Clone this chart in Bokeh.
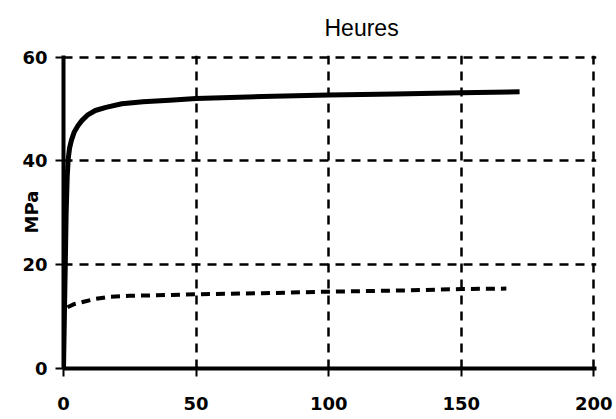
from bokeh.plotting import figure
from bokeh.models import Range1d, FixedTicker
from bokeh.embed import file_html
from bokeh.resources import INLINE

# Data (hours vs MPa)
solid_t = [0, 0.5, 1, 1.4, 1.8, 2.3, 3, 4, 5.5, 7, 9, 12, 16, 22, 30, 40, 50, 75, 100, 125, 150, 172]
solid_v = [0, 15, 30, 37, 40.5, 42.5, 44, 45.5, 46.8, 47.8, 48.8, 49.7, 50.3, 51.0, 51.4, 51.7, 52.0, 52.4, 52.7, 52.9, 53.1, 53.3]

dash_t = [1.5, 4, 8, 12, 17, 25, 35, 50, 75, 100, 125, 150, 167]
dash_v = [11.8, 12.4, 12.9, 13.4, 13.8, 14.0, 14.1, 14.3, 14.5, 14.8, 15.0, 15.3, 15.4]

x_ticks = [0, 50, 100, 150, 200]
y_ticks = [0, 20, 40, 60]
title_text = "Heures"
y_title = "MPa"

p = figure(width=616, height=419, output_backend="svg", toolbar_location=None,
           x_range=Range1d(0, 201), y_range=Range1d(0, 60.3),
           min_border_left=63, min_border_right=20, min_border_top=55, min_border_bottom=51,
           title=title_text)
p.outline_line_color = None
p.background_fill_color = "white"
p.border_fill_color = "white"

p.title.text_font = "Liberation Sans"
p.title.text_font_size = "23px"
p.title.text_font_style = "normal"
p.title.text_color = "black"
p.title.align = "left"
p.title.vertical_align = "top"
p.title.offset = 261
p.title.standoff = 25

TICK_FONT = "DejaVu Sans"
for ax in (p.xaxis[0], p.yaxis[0]):
    ax.axis_line_width = 4
    ax.axis_line_color = "black"
    ax.major_tick_in = 0
    ax.major_tick_out = 8
    ax.major_tick_line_width = 2
    ax.minor_tick_line_color = None
    ax.major_label_text_font = TICK_FONT
    ax.major_label_text_font_size = "18px"
    ax.major_label_text_font_style = "bold"
    ax.major_label_text_color = "black"

p.xaxis.ticker = FixedTicker(ticks=x_ticks)
p.yaxis.ticker = FixedTicker(ticks=y_ticks)
p.xaxis.major_label_standoff = 20
p.yaxis.major_label_standoff = 8

p.yaxis.axis_label = y_title
p.yaxis.axis_label_text_font = TICK_FONT
p.yaxis.axis_label_text_font_size = "18px"
p.yaxis.axis_label_text_font_style = "bold"
p.yaxis.axis_label_text_color = "black"
p.yaxis.axis_label_standoff = -23

for g in (p.xgrid[0], p.ygrid[0]):
    g.grid_line_color = "black"
    g.grid_line_width = 2.5
    g.grid_line_dash = "9 7"

p.line(solid_t, solid_v, line_color="black", line_width=5, line_join="round")
p.line(dash_t, dash_v, line_color="black", line_width=4, line_dash="9 6", line_join="round")

open("out.html", "w").write(file_html(p, INLINE))
